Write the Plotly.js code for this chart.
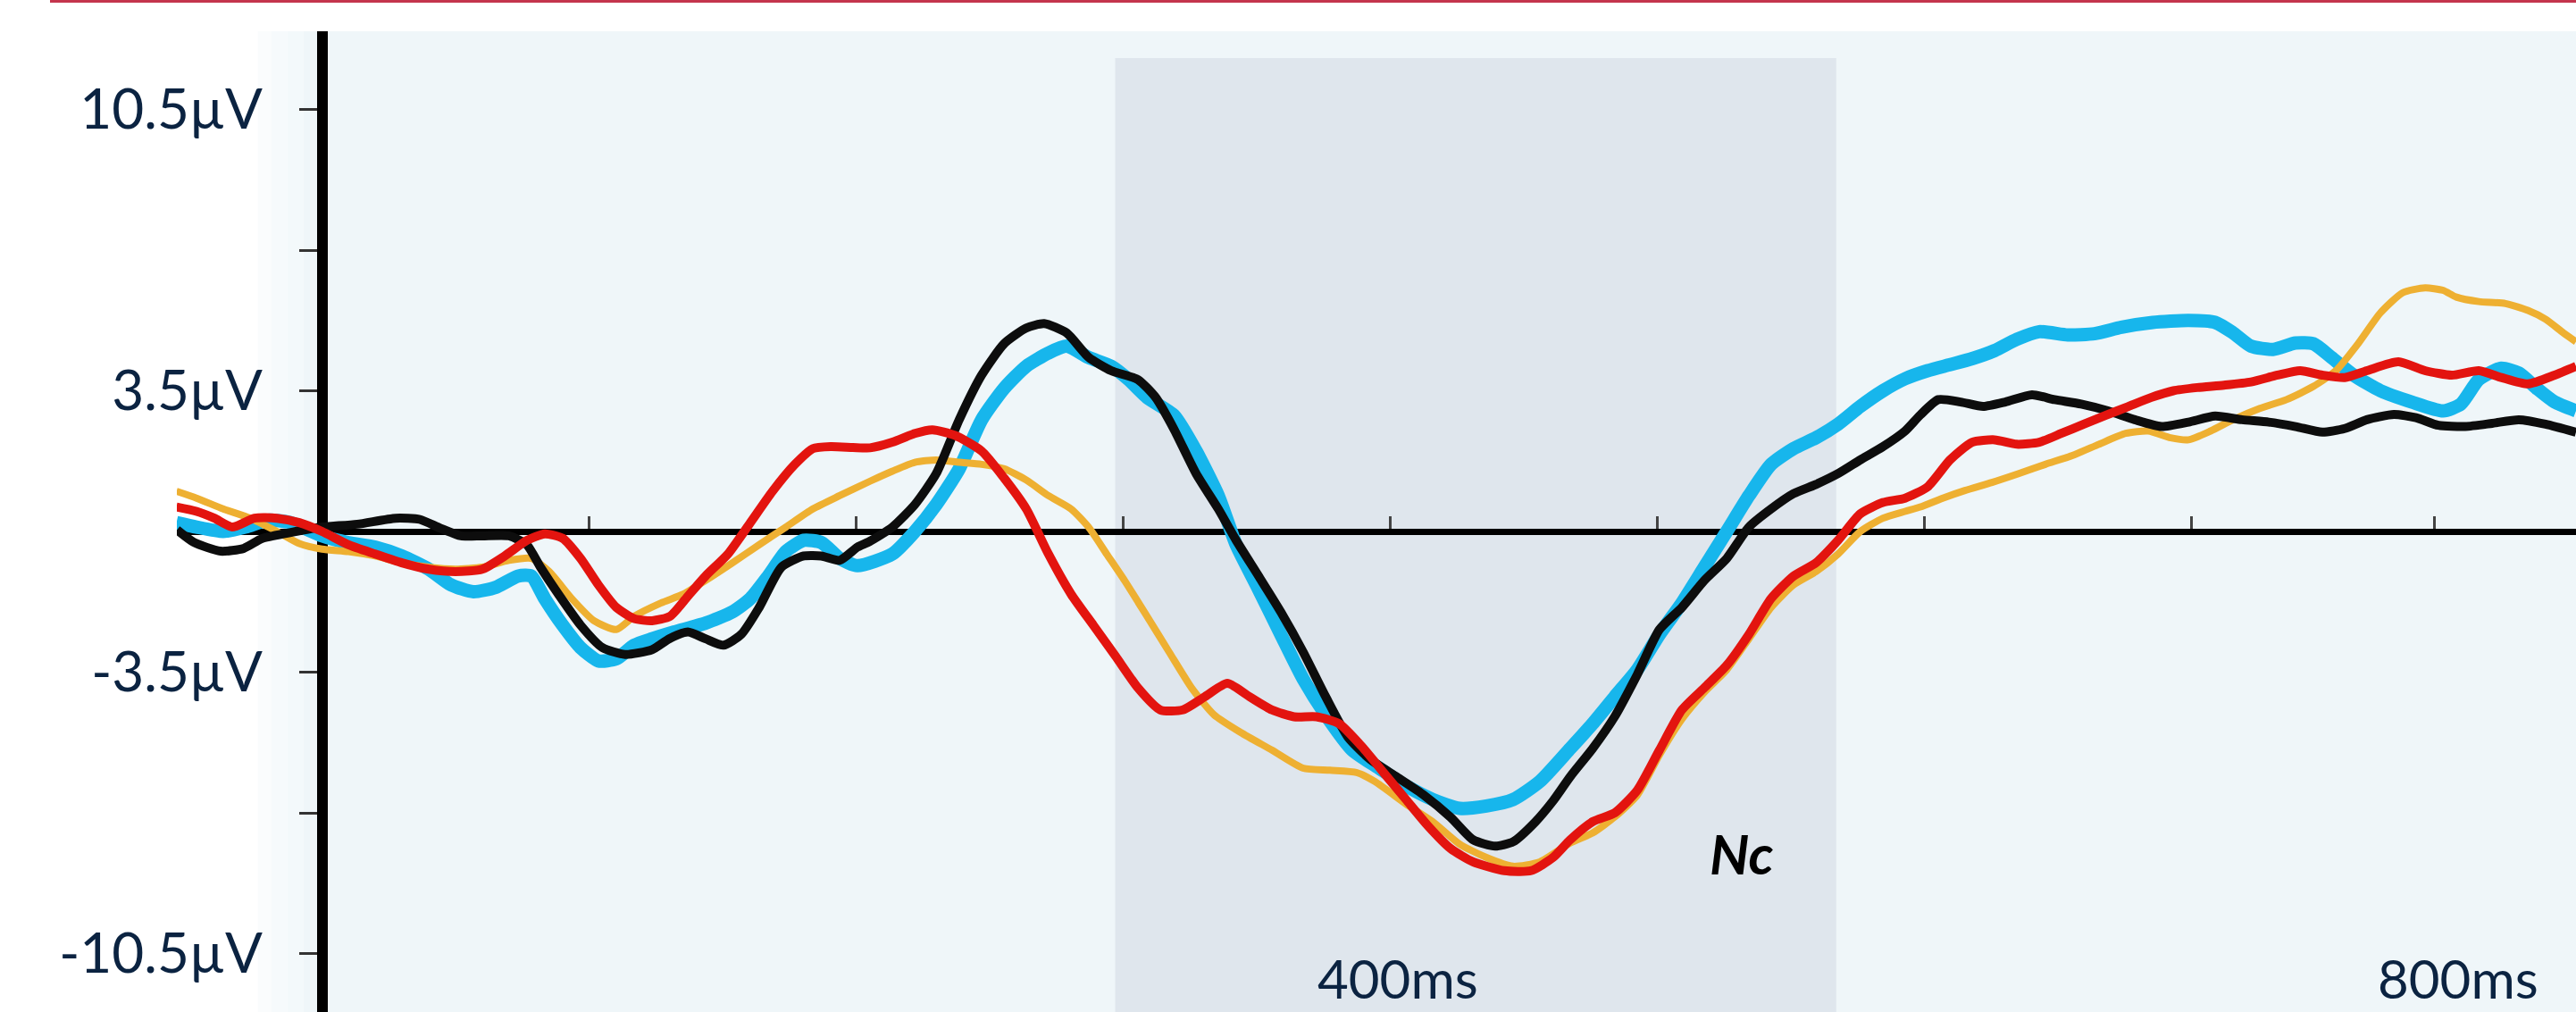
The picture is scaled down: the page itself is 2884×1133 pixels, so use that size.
<!DOCTYPE html>
<html>
<head>
<meta charset="utf-8">
<script src="https://cdn.plot.ly/plotly-3.0.1.min.js"></script>
<style>
  html, body { margin: 0; padding: 0; background: #ffffff; }
  #chart { width: 2884px; height: 1133px; }
</style>
</head>
<body>
<div id="chart"></div>
<script>
// ---- Data (time in ms, amplitude in µV) ----
const tCyan = [-54.5,-47,-37,-28.6,-20.2,-11.9,0,9.9,19.9,29.9,40,48.3,56.7,65,73.4,78.4,83.4,90.1,96.8,103.5,110.2,116.9,123.6,131.9,143.6,153.7,160.4,167.1,173.7,180.4,187.1,193.8,200.5,
  213.6,222,230,238.6,247,255.4,263.7,272,278.8,287,295.5,302,309,319,327.3,335.6,342.3,350.7,359,367.4,375.8,385.8,395.8,405.9,415.9,426,436,446,456,467.4,
  475.8,484.1,492.5,500.8,509.2,517.6,526,534.3,542.6,551,559.4,567.7,576,584.5,592.8,601.2,609.6,617.9,626.3,634.6,643,653.7,663.7,673.8,685.5,698.9,708.9,715.6,722.3,730.6,739,745.7,752.4,760.7,770.8,782.5,794.2,800.9,807.6,816,822.6,829.3,836,844];
const vCyan = [0.22,0.11,0,0.11,0.28,0.22,-0.11,-0.28,-0.39,-0.61,-0.94,-1.33,-1.5,-1.39,-1.11,-1.11,-1.67,-2.33,-2.89,-3.22,-3.17,-2.83,-2.67,-2.5,-2.28,-2.0,-1.67,-1.11,-0.5,-0.22,-0.28,-0.67,-0.85,
  -0.56,0,0.67,1.56,2.78,3.56,4.11,4.44,4.61,4.33,4.11,3.78,3.33,2.89,2.0,0.89,-0.33,-1.44,-2.56,-3.67,-4.56,-5.44,-5.89,-6.33,-6.67,-6.89,-6.83,-6.67,-6.22,-5.4,
  -4.78,-4.11,-3.44,-2.56,-1.78,-0.89,0,0.89,1.67,2.06,2.33,2.67,3.11,3.5,3.8,4.0,4.15,4.3,4.5,4.78,4.97,4.89,4.92,5.08,5.2,5.25,5.2,4.94,4.61,4.53,4.69,4.67,4.33,3.89,3.5,3.22,3.0,3.17,3.78,4.06,3.94,3.56,3.22,3.0];

const tOrange = [-54.5,-47,-37,-26.9,-16.9,-8.5,0,9.9,19.9,29.9,40,50,60,70,78.4,85.1,93.5,101.8,110.2,116.9,126.9,135.3,143.6,153.7,163.7,173.7,183.8,193.8,205.2,213.6,222,230,238.6,247,255.4,263.7,272,280.5,287,293.8,300.5,308.9,317.2,325.6,334,344,355.7,367.4,377.4,387.5,394.2,405.9,415.9,426,436,446,456,467.4,
  475.8,484.1,492.5,500.8,509.2,517.6,526,534.3,542.6,551,559.4,567.7,576,584.5,592.8,598.5,606.9,615.2,625.3,635.3,645.3,655.4,665.4,675.4,683.8,692.2,698.9,707.2,715.6,725.6,735.6,745.7,754.1,762.4,770.8,779.1,787.5,794.2,799.2,807.6,817.6,826,832.6,839.3,844];
const vOrange = [1.0,0.83,0.56,0.33,0.0,-0.3,-0.44,-0.5,-0.61,-0.78,-0.89,-0.94,-0.89,-0.72,-0.67,-1.0,-1.67,-2.22,-2.44,-2.11,-1.78,-1.56,-1.22,-0.78,-0.33,0.11,0.56,0.89,1.25,1.5,1.72,1.78,1.72,1.67,1.56,1.28,0.89,0.56,0.11,-0.56,-1.22,-2.11,-3.0,-3.89,-4.56,-5.0,-5.44,-5.89,-5.94,-6.0,-6.22,-6.78,-7.22,-7.78,-8.11,-8.33,-8.22,-7.75,
  -7.5,-7.1,-6.56,-5.56,-4.67,-4.0,-3.44,-2.67,-1.89,-1.33,-1.0,-0.56,0.0,0.33,0.5,0.61,0.83,1.02,1.22,1.44,1.67,1.89,2.17,2.44,2.5,2.33,2.28,2.5,2.78,3.06,3.28,3.61,4.0,4.67,5.44,5.94,6.06,6.0,5.83,5.72,5.67,5.5,5.28,4.94,4.72];

const tBlack = [-54.3,-48,-38,-29.3,-22.6,-12.9,-1.2,13.2,27.6,36.6,44.3,52,60,70,76.7,81.8,88.5,96.8,105,113.5,123.6,130,137,143.6,150.3,157,163.7,172,180.4,187,193.8,200.5,205,213.6,222,230,238.6,247,255.4,263.7,270.4,278.8,287.1,295.5,305.5,312.2,318.9,327.3,335.6,342.3,350.7,359,367.4,375.8,384.1,392.5,402.5,412.6,422.6,431,439.3,446,454.4,461,467.4,
  475.8,484.1,492.5,500.8,509.2,517.6,526,534.3,542.6,551,559.4,567.7,576,584.5,592.8,598.5,605.2,613.6,622,630.3,640.3,648.7,658.7,668.8,678.8,688.8,698.9,708.9,718.9,729,739,749,757.4,765.7,775.8,784.1,792.5,802.5,812.6,822.6,832.6,844];
const vBlack = [0.04,-0.27,-0.49,-0.42,-0.18,-0.04,0.1,0.18,0.33,0.3,0.08,-0.11,-0.11,-0.11,-0.33,-0.89,-1.56,-2.33,-2.89,-3.06,-2.94,-2.67,-2.5,-2.67,-2.83,-2.56,-1.89,-0.89,-0.61,-0.61,-0.72,-0.39,-0.25,0.11,0.67,1.44,2.78,3.89,4.67,5.06,5.17,4.94,4.33,4.0,3.78,3.33,2.56,1.44,0.56,-0.22,-1.11,-2.0,-3.0,-4.11,-5.11,-5.67,-6.11,-6.56,-7.11,-7.67,-7.83,-7.72,-7.22,-6.7,-6.1,
  -5.4,-4.6,-3.56,-2.44,-1.89,-1.22,-0.67,0.11,0.56,0.94,1.17,1.44,1.78,2.11,2.5,2.9,3.28,3.22,3.11,3.22,3.4,3.28,3.17,3.0,2.78,2.61,2.72,2.87,2.78,2.72,2.61,2.47,2.56,2.78,2.91,2.83,2.64,2.61,2.69,2.78,2.67,2.47];

const tRed = [-54.5,-47,-40.3,-33.6,-25.3,-16.9,-8.5,0,9.9,19.9,29.9,40,50,60,68.4,76.8,83.4,90.1,96.8,103.5,110.2,116.9,123.6,130.3,137,143.6,152,160.4,168.7,177.1,183.8,190.5,198.8,205.2,213.6,222,228.6,237,247,255.4,263.7,272,280.5,288.8,297.2,305.5,313.9,322.3,330.6,339,347.3,355.7,364,372.4,380.8,389.1,397.5,405.9,414.2,422.6,431,442.7,452.7,461,467.4,
  475.8,484.1,492.5,500.8,509.2,517.6,526,534.3,542.6,551,559.4,567.7,576,584.5,592.8,601.2,609.6,617.9,626.3,634.6,643,651.3,659.7,668,676.4,684.8,693.2,702.2,712.2,722.3,732.3,740.7,749,757.4,765.7,777.5,787.5,797.5,807.6,816,826,836,844];
const vRed = [0.61,0.5,0.33,0.11,0.33,0.33,0.22,0,-0.33,-0.56,-0.78,-0.94,-1.0,-0.94,-0.61,-0.22,-0.06,-0.17,-0.67,-1.33,-1.89,-2.17,-2.22,-2.11,-1.61,-1.11,-0.56,0.22,1.0,1.67,2.06,2.11,2.09,2.08,2.22,2.44,2.53,2.39,2.0,1.33,0.56,-0.56,-1.56,-2.33,-3.11,-3.89,-4.44,-4.44,-4.11,-3.78,-4.11,-4.44,-4.61,-4.61,-4.78,-5.33,-6.0,-6.67,-7.33,-7.89,-8.22,-8.44,-8.44,-8.11,-7.67,
  -7.22,-7.0,-6.44,-5.44,-4.44,-3.89,-3.33,-2.56,-1.67,-1.11,-0.78,-0.22,0.44,0.72,0.83,1.11,1.78,2.22,2.28,2.17,2.22,2.44,2.67,2.89,3.11,3.33,3.5,3.58,3.64,3.72,3.89,4.0,3.89,3.83,4.0,4.22,4.0,3.89,4.0,3.83,3.67,3.89,4.11];

// ---- Axis ticks and labels ----
const yTickVals = [10.5, 7, 3.5, -3.5, -7, -10.5];
const yTickText = ['10.5\u00B5V', '', '3.5\u00B5V', '-3.5\u00B5V', '', '-10.5\u00B5V'];
const xTickVals = [100, 200, 300, 400, 500, 600, 700, 791];
const xLabels = ['400ms', '800ms'];
const xLabelPos = [403, 800];
const windowStart = 297, windowEnd = 567;   // shaded Nc window (ms)

const FONT = 'Lato, "Open Sans", "Noto Sans", sans-serif';
const TEXT = '#0b2341';

// plot geometry (px) used to place the axes
const W = 2884, H = 1133, L = 198, T = 35;
const xRange = [-54.35, 844.0];
const yRange = [(595 - H) / 45, (595 - T) / 45];
const zeroPos = (H - 595) / (H - T);
const yAxisPos = (0 - xRange[0]) / (xRange[1] - xRange[0]);

const mk = (t, v, color, width) => ({
  x: t, y: v, type: 'scatter', mode: 'lines',
  line: { color: color, width: width, shape: 'spline', smoothing: 0.6 },
  hoverinfo: 'skip', showlegend: false
});

const traces = [
  mk(tCyan, vCyan, '#17b6ec', 15),
  mk(tOrange, vOrange, '#eeb032', 8),
  mk(tBlack, vBlack, '#0d0d0d', 10),
  mk(tRed, vRed, '#e3140f', 10)
];

const shapes = [
  // light blue plotting background with soft left fade
  { type: 'rect', xref: 'x', yref: 'paper', x0: -24, x1: -19, y0: 0, y1: 1, fillcolor: '#fafcfd', line: { width: 0 }, layer: 'below' },
  { type: 'rect', xref: 'x', yref: 'paper', x0: -19, x1: -13, y0: 0, y1: 1, fillcolor: '#f6fafc', line: { width: 0 }, layer: 'below' },
  { type: 'rect', xref: 'x', yref: 'paper', x0: -13, x1: -7, y0: 0, y1: 1, fillcolor: '#f3f9fb', line: { width: 0 }, layer: 'below' },
  { type: 'rect', xref: 'x', yref: 'paper', x0: -7, x1: xRange[1] + 5, y0: 0, y1: 1, fillcolor: '#eff6f9', line: { width: 0 }, layer: 'below' },
  // shaded Nc window
  { type: 'rect', xref: 'x', yref: 'y', x0: windowStart, x1: windowEnd, y0: yRange[0] - 1, y1: 11.78, fillcolor: '#dfe6ed', line: { width: 0 }, layer: 'below' },
  // thin crimson rule at top of the slide
  { type: 'line', xref: 'paper', yref: 'paper', x0: (56 - L) / (W - L), x1: 1, y0: (H - 1.5) / (H - T), y1: (H - 1.5) / (H - T), line: { color: '#c4354d', width: 3 } }
];

const annotations = xLabels.map((s, i) => ({
  text: s, x: xLabelPos[i], xref: 'x', y: 0, yref: 'paper',
  xanchor: 'center', yanchor: 'bottom', showarrow: false,
  font: { family: FONT, size: 60, color: TEXT }
}));
annotations.push({
  text: '<b><i>Nc</i></b>', x: 531.6, xref: 'x', y: -8.0, yref: 'y',
  xanchor: 'center', yanchor: 'middle', showarrow: false,
  font: { family: FONT, size: 62, color: '#000000' }
});

const layout = {
  width: W, height: H,
  margin: { l: L, r: 0, t: T, b: 0, pad: 0 },
  paper_bgcolor: '#ffffff',
  plot_bgcolor: '#ffffff',
  showlegend: false,
  xaxis: {
    range: xRange, anchor: 'free', position: zeroPos,
    showgrid: false, zeroline: false,
    showline: true, linecolor: '#000000', linewidth: 7,
    ticks: 'inside', tickvals: xTickVals, ticklen: 14, tickwidth: 3, tickcolor: '#444444',
    showticklabels: false, layer: 'below traces', fixedrange: true
  },
  yaxis: {
    range: yRange, anchor: 'free', position: yAxisPos,
    showgrid: false, zeroline: false,
    showline: true, linecolor: '#000000', linewidth: 12,
    ticks: 'outside', tickvals: yTickVals, ticktext: yTickText,
    ticklen: 20, tickwidth: 3, tickcolor: '#333333', ticklabelstandoff: 28,
    tickfont: { family: FONT, size: 62, color: TEXT },
    layer: 'below traces', fixedrange: true
  },
  shapes: shapes,
  annotations: annotations
};

Plotly.newPlot('chart', traces, layout, { displayModeBar: false, staticPlot: true });
</script>
</body>
</html>
